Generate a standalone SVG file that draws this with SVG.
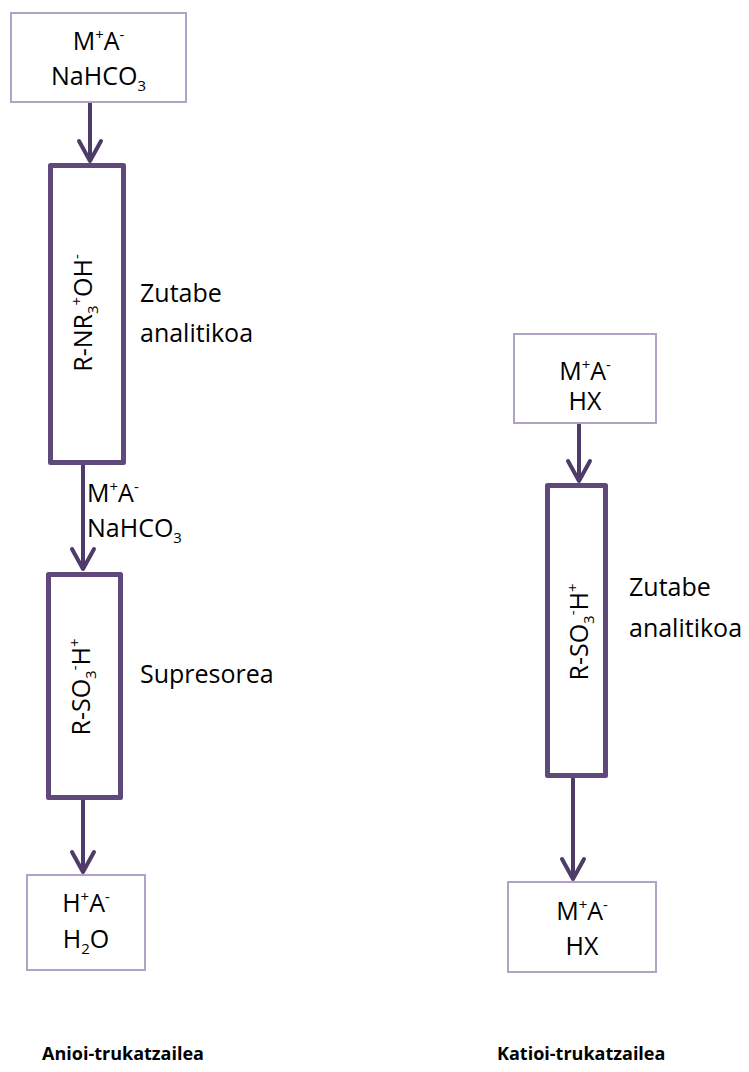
<svg xmlns="http://www.w3.org/2000/svg" width="749" height="1072" viewBox="0 0 749 1072">
<style>
.t{font-family:"Open Sans","Noto Sans","Liberation Sans",sans-serif;font-size:25px;fill:#000}
.c{text-anchor:middle}
.s{font-size:15px}
.b{font-family:"Open Sans","Noto Sans","Liberation Sans",sans-serif;font-size:18px;font-weight:bold;fill:#000}
.box{fill:#fff;stroke:#b3a2c7;stroke-width:2}
.col{fill:#fff;stroke:#5f497a;stroke-width:5;stroke-linejoin:round}
.arr{stroke:#4f3b68;stroke-width:4;fill:none}
</style>
<defs>
<marker id="ah" viewBox="-24 -14 28 28" markerWidth="28" markerHeight="28" refX="0" refY="0" orient="auto" markerUnits="userSpaceOnUse">
<path d="M-20,-11 L0,0 L-20,11" fill="none" stroke="#4f3b68" stroke-width="4" stroke-linecap="round" stroke-linejoin="round"/>
</marker>
</defs>
<g id="connectors">
<line class="arr" x1="90" y1="103" x2="90" y2="161" marker-end="url(#ah)"/>
<line class="arr" x1="83" y1="465" x2="83" y2="569" marker-end="url(#ah)"/>
<line class="arr" x1="83" y1="800" x2="83" y2="872" marker-end="url(#ah)"/>
<line class="arr" x1="579" y1="424" x2="579" y2="481" marker-end="url(#ah)"/>
<line class="arr" x1="573" y1="778" x2="573" y2="879" marker-end="url(#ah)"/>
</g>
<g id="feed-anion">
<rect class="box" x="11" y="13" width="175" height="89"/>
<text class="t c" x="98.5" y="50">M<tspan class="s" dy="-10">+</tspan><tspan dy="10">A</tspan><tspan class="s" dy="-10">-</tspan></text>
<text class="t c" x="98.5" y="85">NaHCO<tspan class="s" dy="6">3</tspan></text>
</g>
<g id="column-anion">
<rect class="col" x="50.5" y="165.5" width="73" height="297"/>
<text class="t c" transform="translate(92,313) rotate(-90)">R-NR<tspan class="s" dy="6">3</tspan><tspan class="s" dy="-16">+</tspan><tspan dy="10">OH</tspan><tspan class="s" dy="-10">-</tspan></text>
<text class="t" x="140" y="302">Zutabe</text>
<text class="t" x="140" y="342">analitikoa</text>
</g>
<g id="label-mid">
<text class="t" x="87" y="502">M<tspan class="s" dy="-10">+</tspan><tspan dy="10">A</tspan><tspan class="s" dy="-10">-</tspan></text>
<text class="t" x="87" y="537">NaHCO<tspan class="s" dy="6">3</tspan></text>
</g>
<g id="suppressor">
<rect class="col" x="48.5" y="574.5" width="72" height="223"/>
<text class="t c" transform="translate(90,687) rotate(-90)">R-SO<tspan class="s" dy="6">3</tspan><tspan class="s" dy="-16">-</tspan><tspan dy="10">H</tspan><tspan class="s" dy="-10">+</tspan></text>
<text class="t" x="140" y="683">Supresorea</text>
</g>
<g id="out-anion">
<rect class="box" x="27" y="875" width="118" height="95"/>
<text class="t c" x="86" y="912">H<tspan class="s" dy="-10">+</tspan><tspan dy="10">A</tspan><tspan class="s" dy="-10">-</tspan></text>
<text class="t c" x="86" y="948">H<tspan class="s" dy="6">2</tspan><tspan dy="-6">O</tspan></text>
</g>
<g id="feed-cation">
<rect class="box" x="514" y="334" width="142" height="89"/>
<text class="t c" x="585" y="380">M<tspan class="s" dy="-10">+</tspan><tspan dy="10">A</tspan><tspan class="s" dy="-10">-</tspan></text>
<text class="t c" x="585" y="410">HX</text>
</g>
<g id="column-cation">
<rect class="col" x="547.5" y="485.5" width="58" height="290"/>
<text class="t c" transform="translate(588,632) rotate(-90)">R-SO<tspan class="s" dy="6">3</tspan><tspan class="s" dy="-16">-</tspan><tspan dy="10">H</tspan><tspan class="s" dy="-10">+</tspan></text>
<text class="t" x="629" y="596">Zutabe</text>
<text class="t" x="629" y="637">analitikoa</text>
</g>
<g id="out-cation">
<rect class="box" x="508" y="882" width="148" height="90"/>
<text class="t c" x="582" y="920">M<tspan class="s" dy="-10">+</tspan><tspan dy="10">A</tspan><tspan class="s" dy="-10">-</tspan></text>
<text class="t c" x="582" y="955">HX</text>
</g>
<g id="captions">
<text class="b" x="42" y="1060">Anioi-trukatzailea</text>
<text class="b" x="497" y="1060">Katioi-trukatzailea</text>
</g>
</svg>
